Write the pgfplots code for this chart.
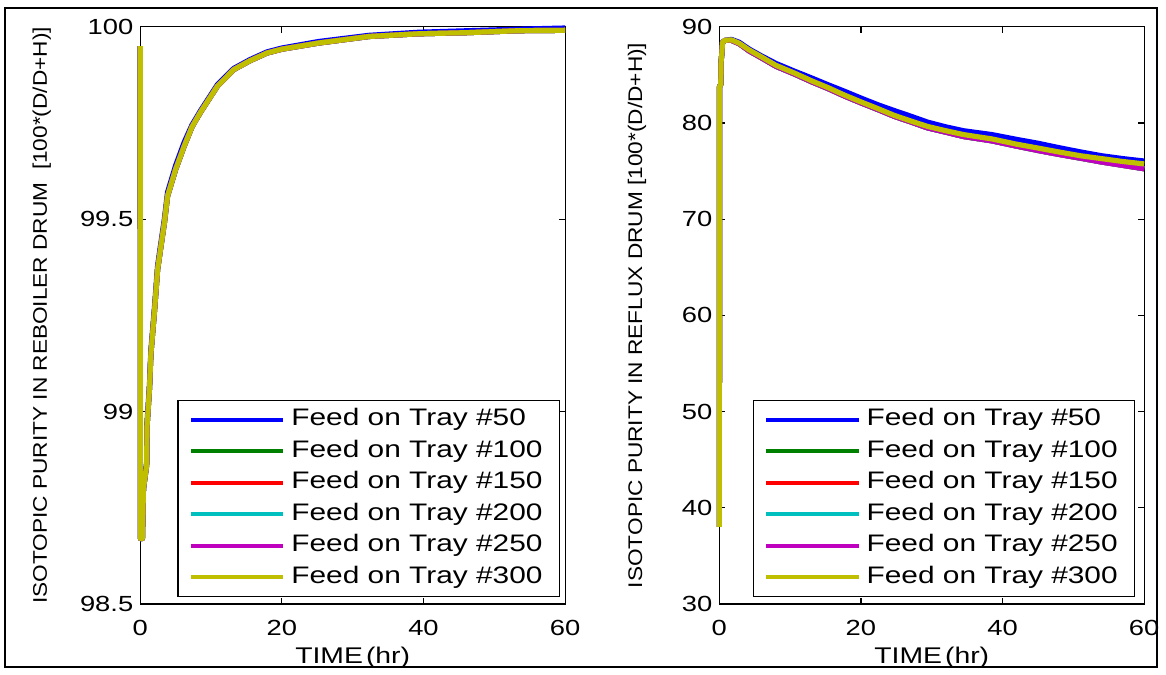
\documentclass[border=0pt]{standalone}
\usepackage{pgfplots}
\pgfplotsset{compat=1.18}
\usepackage{pgfplotstable}
\usepackage{fontspec}
\setmainfont{Liberation Sans}[FakeStretch=1.15]
\newfontfamily\wide{Liberation Sans}[FakeStretch=1.25]

\definecolor{mblue}{rgb}{0,0,1}
\definecolor{mgreen}{rgb}{0,0.5,0}
\definecolor{mred}{rgb}{1,0,0}
\definecolor{mcyan}{rgb}{0,0.75,0.75}
\definecolor{mmag}{rgb}{0.75,0,0.75}
\definecolor{myel}{rgb}{0.75,0.75,0}

% reboiler drum purity (left)
\pgfplotstableread{
t v
0 99.95
0.02 98.67
0.3 98.67
0.45 98.80
0.9 98.86
0.95 98.96
1.3 99.06
1.5 99.15
2.0 99.26
2.45 99.37
3.0 99.44
3.4 99.49
3.85 99.56
5.0 99.63
6.2 99.69
7.3 99.74
8.5 99.778
10.9 99.846
13.2 99.889
15.5 99.912
17.9 99.932
20 99.942
25.2 99.958
32.3 99.975
39.3 99.982
46.3 99.985
53.4 99.99
60 99.991
}\reboil
\pgfplotstableread{
t v
0 99.95
0.02 98.67
0.3 98.67
0.45 98.80
0.9 98.87
0.95 98.97
1.3 99.07
1.5 99.16
2.0 99.27
2.45 99.38
3.0 99.45
3.4 99.50
3.85 99.57
5.0 99.64
6.2 99.70
7.3 99.745
8.5 99.782
10.9 99.85
13.2 99.892
15.5 99.915
17.9 99.935
20 99.945
25.2 99.962
32.3 99.978
39.3 99.986
46.3 99.99
53.4 99.994
60 99.997
}\reboilblue

% reflux drum purity (right)
\pgfplotstableread{
t v
0 38.0
0.03 83.8
0.2 84.0
0.25 86.4
0.35 87.2
0.45 88.4
0.8 88.6
1.7 88.65
2.8 88.3
4.2 87.6
5.9 86.9
8.0 86.0
10.6 85.2
13.0 84.4
15.3 83.7
17.7 82.9
20 82.2
22.4 81.5
24.7 80.8
27.1 80.2
29.4 79.65
32.0 79.2
34.5 78.8
38.5 78.35
42.0 77.8
45.0 77.4
47.9 77.0
51.0 76.6
54.0 76.3
57.0 76.0
60 75.75
}\reflux
\pgfplotstableread{
t v
0 38.0
0.03 83.8
0.2 84.0
0.25 86.4
0.35 87.2
0.45 88.4
0.8 88.6
1.7 88.7
2.8 88.4
4.2 87.7
5.9 87.0
8.0 86.2
10.6 85.4
13.0 84.7
15.3 84.0
17.7 83.3
20 82.6
22.4 81.9
24.7 81.3
27.1 80.7
29.4 80.1
32.0 79.6
34.5 79.2
38.5 78.8
42.0 78.3
45.0 77.9
47.9 77.45
51.0 77.0
54.0 76.6
57.0 76.3
60 76.05
}\refluxblue
\pgfplotstableread{
t v
0 38.0
0.03 83.8
0.2 84.0
0.25 86.4
0.35 87.2
0.45 88.4
0.8 88.6
1.7 88.6
2.8 88.25
4.2 87.5
5.9 86.8
8.0 85.9
10.6 85.1
13.0 84.3
15.3 83.6
17.7 82.8
20 82.1
22.4 81.4
24.7 80.7
27.1 80.1
29.4 79.5
32.0 79.05
34.5 78.6
38.5 78.15
42.0 77.6
45.0 77.15
47.9 76.75
51.0 76.35
54.0 75.95
57.0 75.6
60 75.25
}\refluxlow

\pgfplotsset{
  every axis/.append style={
    scale only axis, width=213.5pt, height=290pt,
    xmin=0, xmax=60, xtick={0,20,40,60}, clip=false,
    tick align=inside, major tick length=3pt,
    axis line style={line width=0.6pt},
    tick style={line width=0.6pt, black},
    /pgf/number format/assume math mode=true,
    tick label style={font=\wide\fontsize{11}{13}\selectfont, black},
    xticklabel style={yshift=-4.5pt},
    xlabel={TIME\hspace{1.5pt}(hr)},
    xlabel style={at={(axis description cs:0.5,-0.093)}, anchor=center,
      font=\wide\fontsize{11.4}{13}\selectfont},
    legend cell align=left,
    legend image code/.code={\draw[##1, line width=2pt] (0pt,0pt) -- (46.5pt,0pt);},
    legend style={draw=black, line width=0.6pt, inner xsep=5.5pt, inner ysep=1.8pt,
      font=\wide\fontsize{12}{14}\selectfont,
      nodes={inner xsep=3pt, inner ysep=2.4pt, text height=8.5pt, text depth=2.5pt}},
  },
  every axis plot/.append style={line width=2.6pt, line join=round},
}

\begin{document}
\begin{tikzpicture}
\path (-70.5pt,-33pt) rectangle (512.5pt,303.5pt);
\draw[line width=1pt] (-68pt,-31.5pt) rectangle (511pt,299.5pt);

\begin{axis}[at={(0pt,0pt)}, anchor=south west,
  ymin=98.5, ymax=100, ytick={98.5,99,99.5,100},
  ylabel={ISOTOPIC PURITY IN REBOILER DRUM \ [100*(D/D+H)]},
  ylabel style={at={(axis description cs:-0.232,0.5)}, anchor=center,
    font=\fontsize{9.9}{11}\selectfont},
  legend style={at={(0.988,0.012)}, anchor=south east},
]
\addplot[mblue] table[x=t,y=v] {\reboilblue};
\addplot[mgreen] table[x=t,y=v] {\reboil};
\addplot[mred] table[x=t,y=v] {\reboil};
\addplot[mcyan] table[x=t,y=v] {\reboil};
\addplot[mmag] table[x=t,y=v] {\reboil};
\addplot[myel] table[x=t,y=v] {\reboil};
\legend{Feed on Tray \#50, Feed on Tray \#100, Feed on Tray \#150,
  Feed on Tray \#200, Feed on Tray \#250, Feed on Tray \#300}
\end{axis}

\begin{axis}[at={(291pt,0pt)}, anchor=south west,
  ymin=30, ymax=90, ytick={30,40,...,90},
  ylabel={ISOTOPIC PURITY IN REFLUX DRUM [100*(D/D+H)]},
  ylabel style={at={(axis description cs:-0.194,0.5)}, anchor=center,
    font=\fontsize{9.9}{11}\selectfont},
  legend style={at={(0.979,0.012)}, anchor=south east},
]
\addplot[mblue] table[x=t,y=v] {\refluxblue};
\addplot[mgreen] table[x=t,y=v] {\refluxlow};
\addplot[mred] table[x=t,y=v] {\refluxlow};
\addplot[mcyan] table[x=t,y=v] {\refluxlow};
\addplot[mmag] table[x=t,y=v] {\refluxlow};
\addplot[myel] table[x=t,y=v] {\reflux};
\legend{Feed on Tray \#50, Feed on Tray \#100, Feed on Tray \#150,
  Feed on Tray \#200, Feed on Tray \#250, Feed on Tray \#300}
\end{axis}
\end{tikzpicture}
\end{document}
